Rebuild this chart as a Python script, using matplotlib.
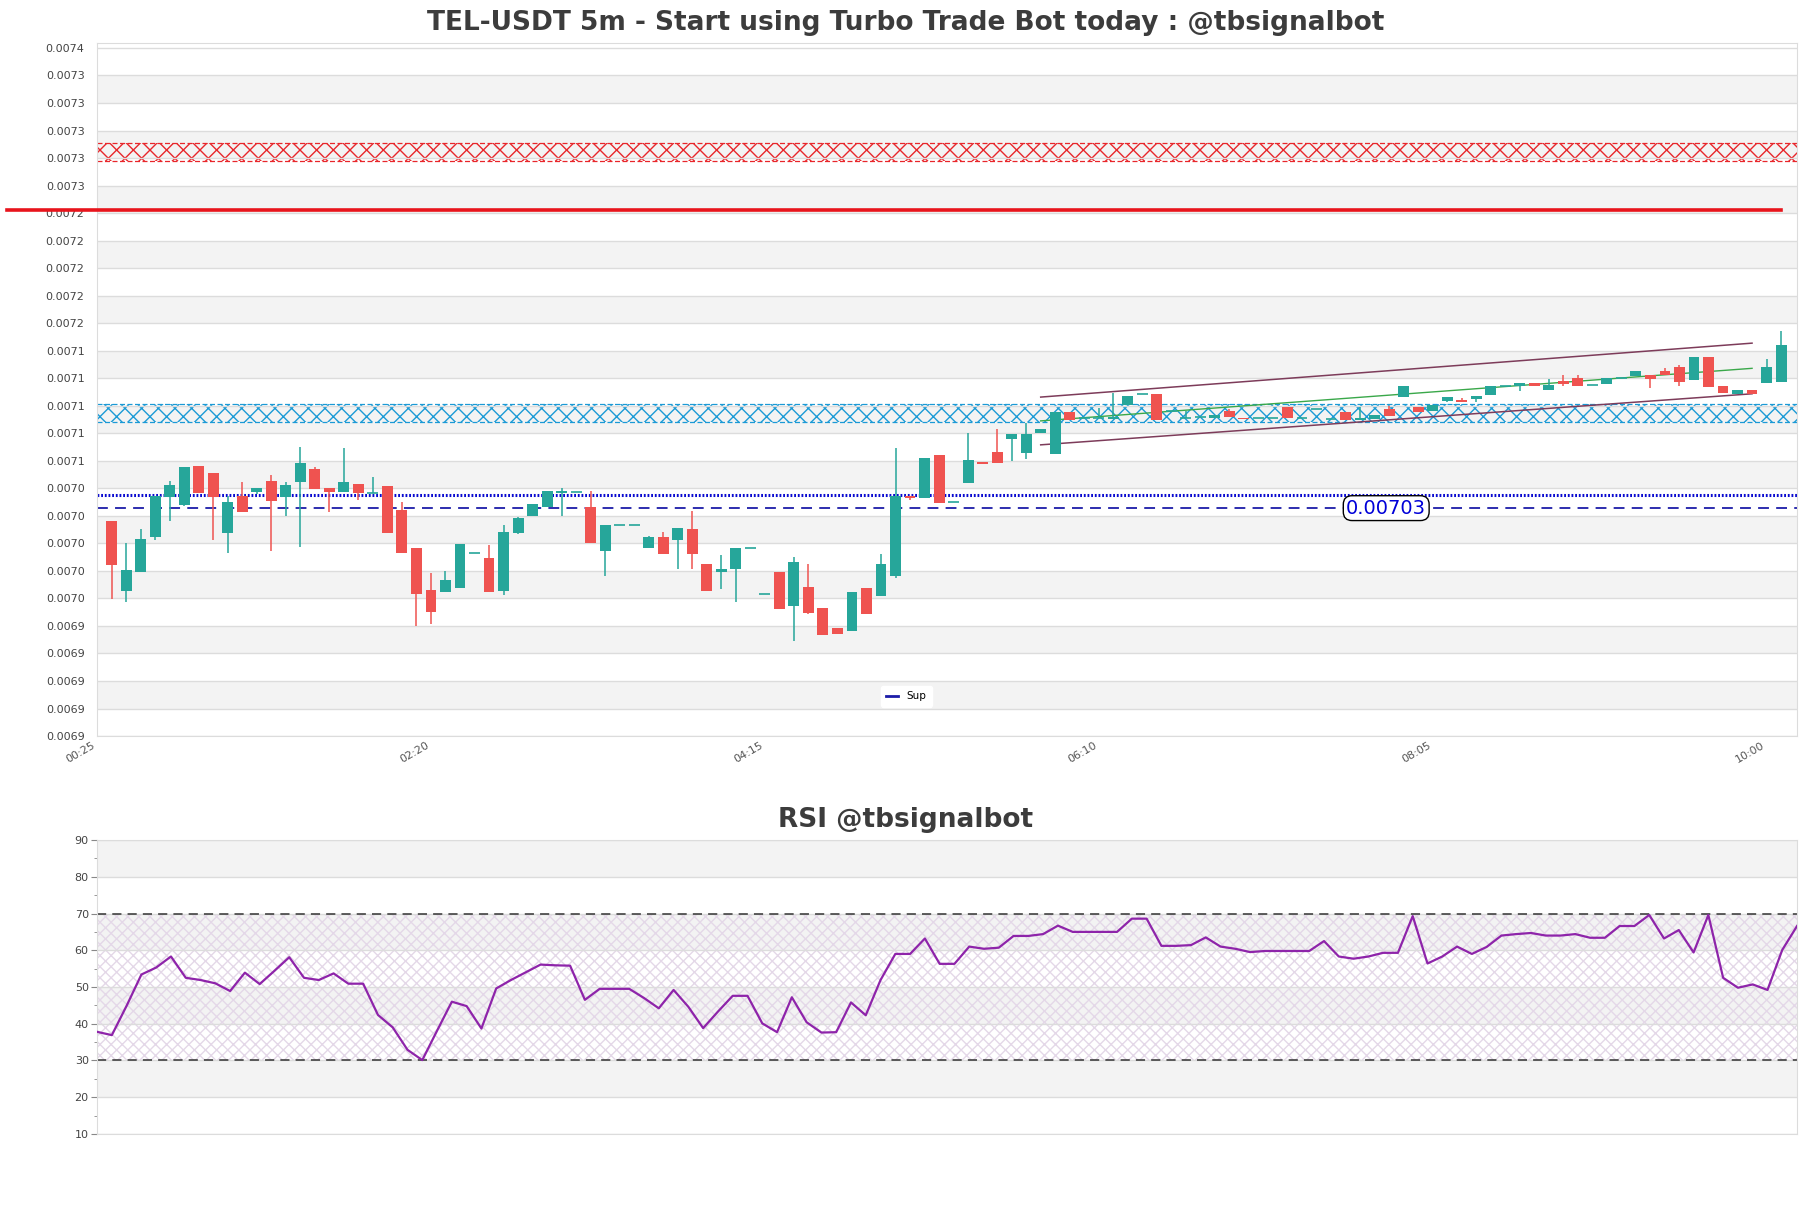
import matplotlib

matplotlib.use("Agg")
import matplotlib.pyplot as plt
import numpy as np
from matplotlib.ticker import FormatStrFormatter, MultipleLocator

TITLE = "TEL-USDT 5m - Start using Turbo Trade Bot today : @tbsignalbot"
RSI_TITLE = "RSI @tbsignalbot"

# OHLC of the 5m candles, 00:30 .. 10:05
opens = [
    0.0070164, 0.0069656, 0.0069789, 0.0070043, 0.0070340, 0.0070282, 0.0070563, 0.0070512,
    0.0070072, 0.0070345, 0.0070376, 0.0070454, 0.0070340, 0.0070449, 0.0070543, 0.0070403,
    0.0070376, 0.0070432, 0.0070364, 0.0070418, 0.0070243, 0.0069968, 0.0069663, 0.0069649,
    0.0069678, 0.0069929, 0.0069895, 0.0069656, 0.0070077, 0.0070200, 0.0070266, 0.0070367,
    0.0070374, 0.0070266, 0.0069946, 0.0070133, 0.0070133, 0.0069968, 0.0070048, 0.0070021,
    0.0070106, 0.0069852, 0.0069789, 0.0069816, 0.0069966, 0.0069632, 0.0069794, 0.0069547,
    0.0069685, 0.0069533, 0.0069388, 0.0069361, 0.0069678, 0.0069620, 0.0069765, 0.0070343,
    0.0070333, 0.0070643, 0.0070300, 0.0070442, 0.0070590, 0.0070662, 0.0070762, 0.0070660,
    0.0070800, 0.0070653, 0.0070955, 0.0070909, 0.0070910, 0.0070904, 0.0071008, 0.0071085,
    0.0071083, 0.0070965, 0.0070909, 0.0070920, 0.0070909, 0.0070962, 0.0070909, 0.0070909,
    0.0070912, 0.0070993, 0.0070909, 0.0070975, 0.0070904, 0.0070955, 0.0070897, 0.0070904,
    0.0070976, 0.0071066, 0.0070988, 0.0070962, 0.0071037, 0.0071044, 0.0071049, 0.0071080,
    0.0071145, 0.0071145, 0.0071162, 0.0071116, 0.0071179, 0.0071201, 0.0071148, 0.0071157,
    0.0071201, 0.0071218, 0.0071225, 0.0071252, 0.0071281, 0.0071187, 0.0071353, 0.0071143,
    0.0071087, 0.0071114, 0.0071167, 0.0071174,
]
highs = [
    0.0070164, 0.0070004, 0.0070106, 0.0070345, 0.0070456, 0.0070555, 0.0070563, 0.0070512,
    0.0070347, 0.0070449, 0.0070403, 0.0070497, 0.0070449, 0.0070700, 0.0070558, 0.0070403,
    0.0070693, 0.0070432, 0.0070485, 0.0070418, 0.0070304, 0.0069968, 0.0069786, 0.0069796,
    0.0069997, 0.0069929, 0.0069985, 0.0070135, 0.0070193, 0.0070287, 0.0070382, 0.0070403,
    0.0070374, 0.0070377, 0.0070135, 0.0070133, 0.0070133, 0.0070055, 0.0070082, 0.0070113,
    0.0070237, 0.0069852, 0.0069917, 0.0069968, 0.0069966, 0.0069632, 0.0069794, 0.0069903,
    0.0069847, 0.0069533, 0.0069388, 0.0069649, 0.0069678, 0.0069920, 0.0070694, 0.0070343,
    0.0070621, 0.0070643, 0.0070300, 0.0070800, 0.0070590, 0.0070832, 0.0070793, 0.0070873,
    0.0070829, 0.0070955, 0.0070955, 0.0070909, 0.0070984, 0.0071093, 0.0071069, 0.0071085,
    0.0071083, 0.0070965, 0.0070965, 0.0070920, 0.0070931, 0.0070977, 0.0070909, 0.0070909,
    0.0070912, 0.0070993, 0.0070909, 0.0070975, 0.0070904, 0.0070955, 0.0070989, 0.0070933,
    0.0071000, 0.0071143, 0.0070988, 0.0071008, 0.0071061, 0.0071056, 0.0071070, 0.0071143,
    0.0071145, 0.0071165, 0.0071162, 0.0071194, 0.0071223, 0.0071223, 0.0071148, 0.0071201,
    0.0071201, 0.0071252, 0.0071225, 0.0071274, 0.0071295, 0.0071353, 0.0071353, 0.0071143,
    0.0071114, 0.0071114, 0.0071339, 0.0071542,
]
lows = [
    0.0069593, 0.0069574, 0.0069789, 0.0070021, 0.0070159, 0.0070268, 0.0070364, 0.0070028,
    0.0069927, 0.0070231, 0.0070360, 0.0069941, 0.0070200, 0.0069977, 0.0070396, 0.0070231,
    0.0070376, 0.0070318, 0.0070364, 0.0070072, 0.0069927, 0.0069400, 0.0069416, 0.0069649,
    0.0069678, 0.0069929, 0.0069649, 0.0069622, 0.0070069, 0.0070200, 0.0070266, 0.0070200,
    0.0070374, 0.0070005, 0.0069765, 0.0070133, 0.0070133, 0.0069968, 0.0069925, 0.0069816,
    0.0069811, 0.0069656, 0.0069671, 0.0069572, 0.0069966, 0.0069632, 0.0069521, 0.0069289,
    0.0069485, 0.0069332, 0.0069340, 0.0069361, 0.0069485, 0.0069620, 0.0069751, 0.0070316,
    0.0070333, 0.0070297, 0.0070300, 0.0070442, 0.0070580, 0.0070587, 0.0070602, 0.0070612,
    0.0070800, 0.0070653, 0.0070899, 0.0070909, 0.0070910, 0.0070904, 0.0071008, 0.0071085,
    0.0070899, 0.0070965, 0.0070909, 0.0070920, 0.0070909, 0.0070921, 0.0070902, 0.0070909,
    0.0070912, 0.0070909, 0.0070909, 0.0070975, 0.0070904, 0.0070899, 0.0070897, 0.0070904,
    0.0070928, 0.0071066, 0.0070957, 0.0070962, 0.0071024, 0.0071029, 0.0071027, 0.0071080,
    0.0071145, 0.0071109, 0.0071145, 0.0071116, 0.0071145, 0.0071145, 0.0071148, 0.0071157,
    0.0071201, 0.0071218, 0.0071131, 0.0071225, 0.0071145, 0.0071187, 0.0071138, 0.0071092,
    0.0071087, 0.0071087, 0.0071167, 0.0071174,
]
closes = [
    0.0069840, 0.0069808, 0.0070033, 0.0070345, 0.0070425, 0.0070555, 0.0070364, 0.0070340,
    0.0070301, 0.0070231, 0.0070403, 0.0070311, 0.0070425, 0.0070587, 0.0070396, 0.0070376,
    0.0070449, 0.0070364, 0.0070364, 0.0070072, 0.0069927, 0.0069629, 0.0069499, 0.0069736,
    0.0069997, 0.0069929, 0.0069649, 0.0070084, 0.0070185, 0.0070287, 0.0070382, 0.0070377,
    0.0070374, 0.0070005, 0.0070135, 0.0070133, 0.0070133, 0.0070048, 0.0069925, 0.0070113,
    0.0069925, 0.0069656, 0.0069813, 0.0069968, 0.0069966, 0.0069632, 0.0069521, 0.0069867,
    0.0069492, 0.0069332, 0.0069340, 0.0069649, 0.0069485, 0.0069852, 0.0070341, 0.0070329,
    0.0070621, 0.0070297, 0.0070300, 0.0070607, 0.0070580, 0.0070587, 0.0070793, 0.0070793,
    0.0070829, 0.0070955, 0.0070899, 0.0070909, 0.0070910, 0.0070916, 0.0071069, 0.0071085,
    0.0070899, 0.0070965, 0.0070909, 0.0070920, 0.0070931, 0.0070921, 0.0070902, 0.0070909,
    0.0070912, 0.0070909, 0.0070909, 0.0070975, 0.0070904, 0.0070899, 0.0070909, 0.0070933,
    0.0070928, 0.0071143, 0.0070957, 0.0071008, 0.0071061, 0.0071029, 0.0071070, 0.0071143,
    0.0071145, 0.0071165, 0.0071145, 0.0071150, 0.0071160, 0.0071145, 0.0071148, 0.0071201,
    0.0071201, 0.0071252, 0.0071194, 0.0071225, 0.0071174, 0.0071353, 0.0071138, 0.0071092,
    0.0071114, 0.0071087, 0.0071281, 0.0071440,
]

rsi = [
    37.8, 36.9, 44.9, 53.4, 55.3, 58.3, 52.5, 51.9, 51.0, 48.9, 53.9, 50.8, 54.4, 58.1, 52.5, 51.9,
    53.7, 50.9, 50.9, 42.4, 39.0, 32.9, 30.1, 38.1, 46.0, 44.8, 38.7, 49.6, 51.9, 54.0, 56.1, 55.9,
    55.8, 46.5, 49.5, 49.5, 49.5, 47.0, 44.2, 49.2, 44.6, 38.8, 43.3, 47.6, 47.6, 40.1, 37.7, 47.2,
    40.4, 37.6, 37.7, 45.8, 42.3, 51.9, 59.0, 59.0, 63.2, 56.3, 56.3, 61.0, 60.4, 60.7, 63.9, 63.9,
    64.4, 66.7, 65.0, 65.0, 65.0, 65.0, 68.6, 68.6, 61.2, 61.2, 61.4, 63.5, 61.0, 60.4, 59.5, 59.8,
    59.8, 59.8, 59.8, 62.5, 58.3, 57.7, 58.3, 59.3, 59.3, 69.3, 56.4, 58.3, 61.0, 59.0, 60.9, 64.0,
    64.4, 64.7, 64.0, 64.0, 64.4, 63.4, 63.4, 66.6, 66.6, 69.6, 63.2, 65.5, 59.4, 69.6, 52.5, 49.8,
    50.7, 49.2, 60.1, 66.6,
]

time_labels = ["00:25", "02:20", "04:15", "06:10", "08:05", "10:00"]
time_label_pos = [0, 23, 46, 69, 92, 115]

resistance_zone = (0.007278, 0.007291)
support_zone = (0.007088, 0.007101)
red_level = 0.0072422
red_level_span = (-6.2, 116.0)
sup_level = 0.0070256
sup_label = "0.00703"
sup_label_x = 88.8
dotted_level = 0.0070352

channel_x = [65, 114]
channel_upper = [0.0071063, 0.0071455]
channel_lower = [0.0070716, 0.0071087]
channel_mid = [0.0070890, 0.0071272]

price_min, price_max, price_step = 0.00686, 0.0073636, 0.00002

UP, DOWN = "#26a69a", "#ef5350"
BAND = "#f3f3f3"
GRID = "#dcdcdc"
TEXT = "#3c3c3c"


def hatched_zone(axis, lo, hi, color):
    axis.axhspan(lo, hi, facecolor="none", edgecolor=color, hatch="xx", lw=0, zorder=1)
    for level in (lo, hi):
        axis.axhline(level, color=color, lw=0.9, ls=(0, (4, 2)), zorder=1)


fig = plt.figure(figsize=(18.11, 12.08), dpi=100)
ax = fig.add_axes([0.0536, 0.3907, 0.9387, 0.5737])
ax_rsi = fig.add_axes([0.0536, 0.0613, 0.9387, 0.2433])

# --- price panel --------------------------------------------------------
o, h, l, c = map(np.asarray, (opens, highs, lows, closes))
x = np.arange(1, len(o) + 1)
colors = np.where(c >= o, UP, DOWN)

ax.set_xlim(0, 117.1)
ax.set_ylim(price_min, price_max)
ax.yaxis.set_major_locator(MultipleLocator(price_step))
ax.yaxis.set_major_formatter(FormatStrFormatter("%.4f"))

ticks = [t for t in ax.get_yticks() if price_min - 1e-9 <= t <= price_max]
for k, (lo, hi) in enumerate(zip(ticks[:-1], ticks[1:])):
    if (len(ticks) - 2 - k) % 2 == 1:
        ax.axhspan(lo, hi, color=BAND, lw=0, zorder=0)
ax.grid(axis="y", color=GRID, lw=1, zorder=0.5)

hatched_zone(ax, *resistance_zone, "#e8262b")
hatched_zone(ax, *support_zone, "#1b9ad6")
ax.plot(red_level_span, [red_level, red_level], color="#e8141c", lw=2.6, clip_on=False, zorder=4)

ax.axhline(dotted_level, color="#0a0ad0", lw=2.2, ls=(0, (0.6, 0.6)), zorder=1.5)
ax.axhline(sup_level, color="#1c1ca8", lw=1.3, ls=(0, (6, 4)), zorder=1.5, label="Sup")
ax.text(sup_label_x, sup_level, sup_label, color="#0000d8", fontsize=14, ha="center", va="center",
        zorder=5, bbox=dict(boxstyle="round,pad=0.15,rounding_size=0.45", fc="white", ec="black", lw=1))

ax.plot(channel_x, channel_upper, color="#7d3c5a", lw=1.1, zorder=2)
ax.plot(channel_x, channel_lower, color="#7d3c5a", lw=1.1, zorder=2)
ax.plot(channel_x, channel_mid, color="#3aa84a", lw=1.0, zorder=2)

ax.vlines(x, l, h, colors=colors, lw=1.1, zorder=3)
body = np.abs(c - o)
solid = body > 1e-9
ax.bar(x[solid], body[solid], bottom=np.minimum(o, c)[solid], width=0.75,
       color=colors[solid], lw=0, zorder=3)
ax.hlines(o[~solid], x[~solid] - 0.375, x[~solid] + 0.375, colors=colors[~solid], lw=1.2, zorder=3)

ax.set_xticks(time_label_pos)
ax.set_xticklabels(time_labels, rotation=30, ha="right")
ax.tick_params(axis="x", length=0, pad=3, labelsize=8, labelcolor="#555555")
ax.tick_params(axis="y", length=0, pad=9, labelsize=8, labelcolor="#444444")
for sp in ax.spines.values():
    sp.set_color(GRID)

leg = ax.legend(loc="lower center", bbox_to_anchor=(0.476, 0.035), fontsize=7.5, frameon=True,
                handlelength=1.2, borderpad=0.5)
leg.get_frame().set_edgecolor("white")
leg.get_frame().set_alpha(1)
for line in leg.get_lines():
    line.set_linestyle("-")
    line.set_linewidth(2)

# --- RSI panel ----------------------------------------------------------
xr = np.arange(len(rsi))
ax_rsi.set_xlim(0, len(rsi) - 1)
ax_rsi.set_ylim(10, 90)
for lo in (20, 40, 60, 80):
    ax_rsi.axhspan(lo, lo + 10, color=BAND, lw=0, zorder=0)
ax_rsi.fill_between([0, len(rsi) - 1], 30, 70, facecolor="none", edgecolor="#e4d8e8",
                    hatch="xxx", lw=0, zorder=0.6)
ax_rsi.grid(axis="y", color=GRID, lw=1, zorder=0.5)
ax_rsi.axhline(70, color="#333333", lw=1.1, ls=(0, (6, 4)), zorder=2)
ax_rsi.axhline(30, color="#333333", lw=1.1, ls=(0, (6, 4)), zorder=2)
ax_rsi.plot(xr, rsi, color="#8e24aa", lw=1.6, zorder=3)

ax_rsi.set_yticks(range(10, 91, 10))
ax_rsi.yaxis.set_minor_locator(MultipleLocator(5))
ax_rsi.set_xticks([])
ax_rsi.tick_params(axis="y", which="major", length=4, color="#888888", pad=2,
                   labelsize=8, labelcolor="#444444")
ax_rsi.tick_params(axis="y", which="minor", length=2.5, color="#888888")
for sp in ax_rsi.spines.values():
    sp.set_color(GRID)

fig.text(0.5, 0.981, TITLE, ha="center", va="center", fontsize=19, fontweight="bold", color=TEXT)
fig.text(0.5, 0.321, RSI_TITLE, ha="center", va="center", fontsize=19, fontweight="bold", color=TEXT)

fig.savefig("out.png", dpi=100)
